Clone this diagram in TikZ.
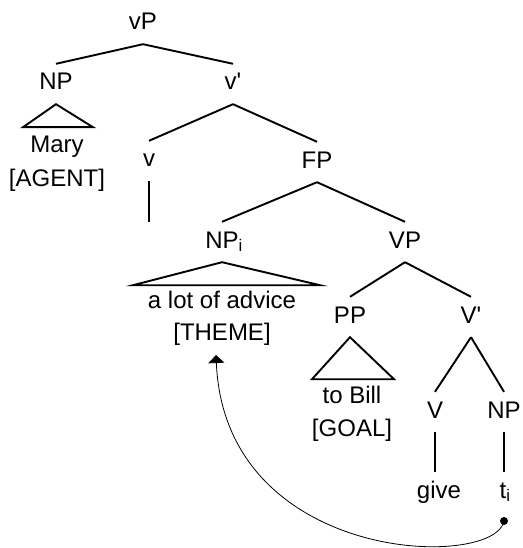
\documentclass[tikz,border=0pt]{standalone}
\usepackage{fontspec}
\newfontfamily\treefont{Liberation Sans}
\usetikzlibrary{arrows.meta,calc}
\begin{document}
\begin{tikzpicture}[x=1pt,y=-1pt,
  cat/.style={anchor=base,inner xsep=0pt,inner ysep=4pt,text height=22pt,text depth=10pt,font=\treefont\fontsize{24}{29}\selectfont},
  word/.style={anchor=base,inner sep=0pt,font=\treefont\fontsize{24}{29}\selectfont},
  branch/.style={line width=1.9pt},
  tri/.style={line width=1.9pt,line join=miter},
  mv/.style={line width=0.8pt,-{Triangle[length=8pt,width=16pt]}}]
\useasboundingbox (0,0) rectangle (522,548);
% category labels
\node[cat] (vP)  at (143,30)  {vP};
\node[cat] (NP)  at (56,90)   {NP};
\node[cat] (vbar) at (233,90) {v'};
\node[cat] (v)   at (149,167) {v};
\node[cat] (FP)  at (317,168) {FP};
\node[cat] (NPi) at (222,248) {NP\rlap{\textsubscript{i}}};
\node[cat] (VP)  at (405,248) {VP};
\node[cat] (PP)  at (350,323) {PP};
\node[cat] (Vbar) at (471,323) {V'};
\node[cat] (V)   at (435,418) {V};
\node[cat] (NPt) at (504,418) {NP};
% words
\node[word] (mary)   at (57,153)  {Mary};
\node[word] (agent)  at (57,186)  {[AGENT]};
\node[word] (advice) at (222,308) {a lot of advice};
\node[word] (theme)  at (222,340) {[THEME]};
\node[word] (bill)   at (352,403) {to Bill};
\node[word] (goal)   at (352,436) {[GOAL]};
\node[cat]  (give)   at (439,498) {give};
\node[cat]  (ti)     at (503,498) {t\rlap{\textsubscript{i}}};
% branches
\draw[branch] (vP.south) -- (NP.north);
\draw[branch] (vP.south) -- (vbar.north);
\draw[branch] (vbar.south) -- (v.north);
\draw[branch] (vbar.south) -- (FP.north);
\coordinate (vend) at (149,222);
\draw[branch] (v.south) -- (vend);
\draw[branch] (FP.south) -- (NPi.north);
\draw[branch] (FP.south) -- (VP.north);
\draw[branch] (VP.south) -- (PP.north);
\draw[branch] (VP.south) -- (Vbar.north);
\draw[branch] (Vbar.south) -- (V.north);
\draw[branch] (Vbar.south) -- (NPt.north);
\draw[branch] (V.south) -- (V.south |- give.north);
\draw[branch] (NPt.south) -- (NPt.south |- ti.north);
% triangles
\draw[tri] (NP.south) -- ($(NP.south)+(-33,23)$) -- ($(NP.south)+(37,23)$) -- cycle;
\draw[tri] (NPi.south) -- ($(NPi.south)+(-89,23)$) -- ($(NPi.south)+(98,23)$) -- cycle;
\draw[tri] (PP.south) -- ($(PP.south)+(-38,42)$) -- ($(PP.south)+(44,42)$) -- cycle;
% movement arrow
\coordinate (trace) at (504,521);
\coordinate (tgt) at (216,355);
\fill (trace) circle[radius=4pt];
\draw[mv] (trace) .. controls (495,570) and (225,565) .. (tgt);
\end{tikzpicture}
\end{document}
